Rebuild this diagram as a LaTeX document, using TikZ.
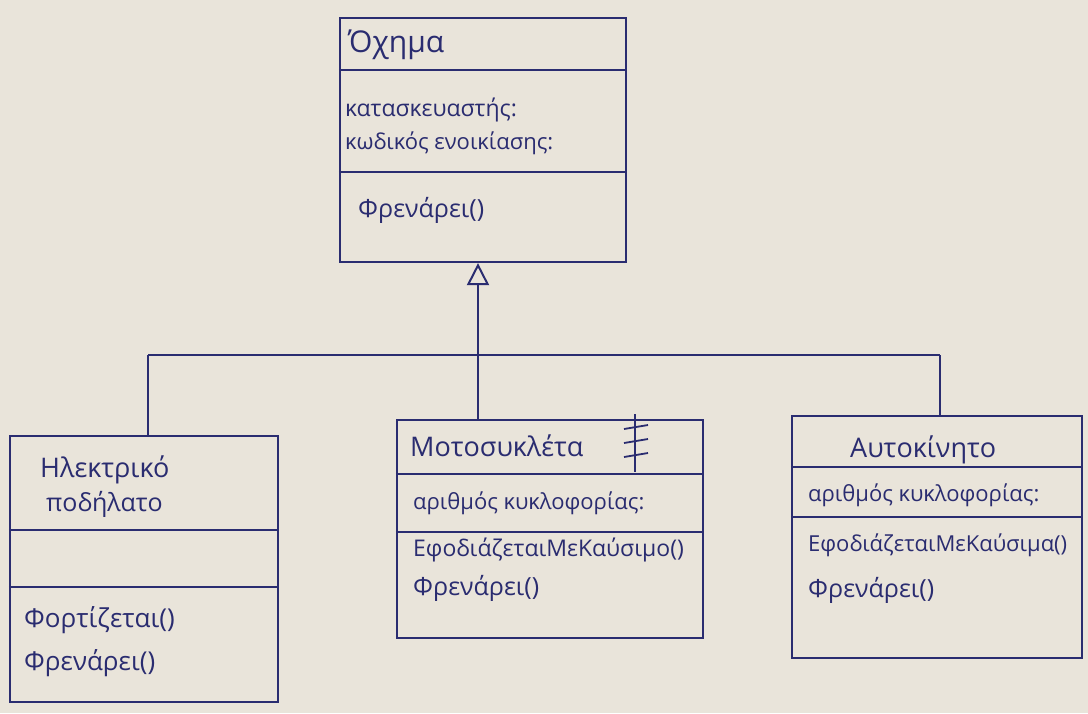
\documentclass[tikz,border=0pt]{standalone}
\usepackage{fontspec}
\setmainfont{Open Sans}
\usetikzlibrary{arrows.meta}
\definecolor{paper}{RGB}{233,228,218}
\definecolor{ink}{RGB}{42,44,112}
\tikzset{
  classbox/.style={draw=ink, line width=2.2pt, inner sep=0pt},
  divider/.style={draw=ink, line width=2.2pt},
  conn/.style={draw=ink, line width=2.2pt},
  lbl/.style={text=ink, anchor=west, inner sep=0pt, font=\fontsize{#1}{#1}\selectfont},
}
\begin{document}
\begin{tikzpicture}[x=1pt,y=-1pt]
\fill[paper] (0,0) rectangle (1088,713);
\useasboundingbox (0,0) rectangle (1088,713);
% class boxes
\node[classbox, minimum width=286pt, minimum height=244pt] (vehicle) at (483,140) {};
\node[classbox, minimum width=268pt, minimum height=266pt] (ebike) at (144,569) {};
\node[classbox, minimum width=306pt, minimum height=218pt] (moto) at (550,529) {};
\node[classbox, minimum width=290pt, minimum height=242pt] (car) at (937,537) {};
% dividers
\draw[divider] (vehicle.west |- 0,70) -- (vehicle.east |- 0,70);
\draw[divider] (vehicle.west |- 0,172) -- (vehicle.east |- 0,172);
\draw[divider] (ebike.west |- 0,530) -- (ebike.east |- 0,530);
\draw[divider] (ebike.west |- 0,587) -- (ebike.east |- 0,587);
\draw[divider] (moto.west |- 0,474) -- (moto.east |- 0,474);
\draw[divider] (moto.west |- 0,532) -- (moto.east |- 0,532);
\draw[divider] (car.west |- 0,467) -- (car.east |- 0,467);
\draw[divider] (car.west |- 0,517) -- (car.east |- 0,517);
% texts
\node[lbl=30] (t1) at (348,45) {Όχημα};
\node[lbl=23] (a1) at (345,110) {κατασκευαστής:};
\node[lbl=22] (a2) at (345,143) {κωδικός ενοικίασης:};
\node[lbl=25] (m1) at (358,210) {Φρενάρει()};
\node[lbl=27] (t2) at (40,470) {Ηλεκτρικό};
\node[lbl=25] (t2b) at (46,504) {ποδήλατο};
\node[lbl=26] (m2) at (24,620) {Φορτίζεται()};
\node[lbl=26] (m3) at (24,663) {Φρενάρει()};
\node[lbl=27] (t3) at (410,446) {Μοτοσυκλέτα};
\node[lbl=22] (a3) at (413,503) {αριθμός κυκλοφορίας:};
\node[lbl=23] (m4) at (413,550) {ΕφοδιάζεταιΜεΚαύσιμο()};
\node[lbl=25] (m5) at (413,588) {Φρενάρει()};
\node[lbl=27] (t4) at (850,450) {Αυτοκίνητο};
\node[lbl=22] (a4) at (808,495) {αριθμός κυκλοφορίας:};
\node[lbl=22] (m6) at (808,545) {ΕφοδιάζεταιΜεΚαύσιμα()};
\node[lbl=25] (m7) at (808,590) {Φρενάρει()};
% mark in motorcycle header
\draw[conn, line width=1.8pt] (635,414) -- (635,472);
\draw[conn, line width=1.8pt] (624,429) -- (648,425);
\draw[conn, line width=1.8pt] (624,443) -- (648,439);
\draw[conn, line width=1.8pt] (624,457) -- (648,453);
% generalization connectors
\coordinate (jL) at (148,355);
\coordinate (jM) at (478,355);
\coordinate (jR) at (940,355);
\draw[conn] (jL) -- (jR);
\draw[conn] (jL) -- (jL |- ebike.north);
\draw[conn] (jR) -- (jR |- car.north);
\draw[conn, -{Triangle[open, length=22pt, width=22pt, line width=2pt]}] (jM |- moto.north) -- (jM |- vehicle.south);
\end{tikzpicture}
\end{document}
